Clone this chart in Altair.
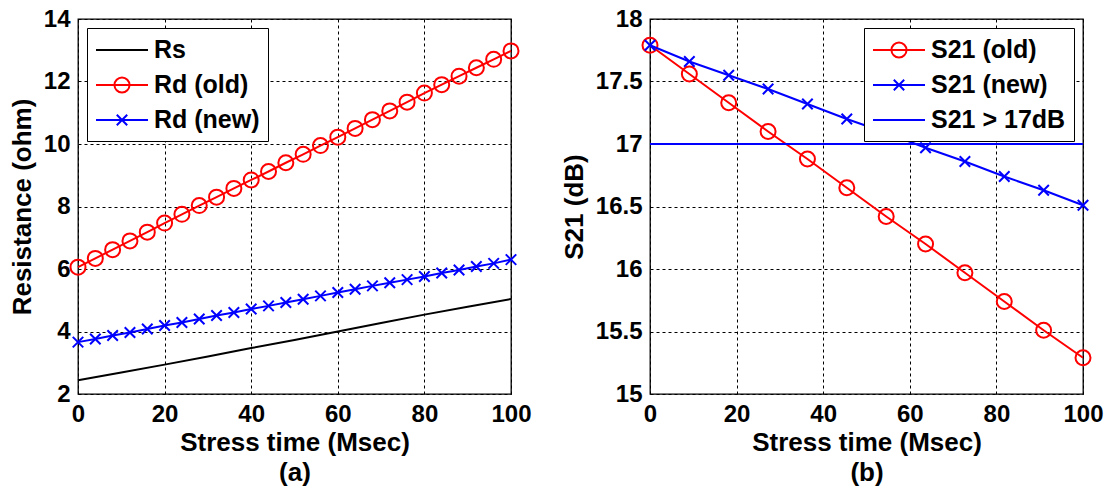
import altair as alt
import pandas as pd

FONT = "Liberation Sans"

# ---------------- Panel (a): resistance vs stress time ----------------
a_series = ["Rs", "Rd (old)", "Rd (new)"]
a_colors = ["black", "red", "blue"]
rs_time = [0, 10, 20, 30, 40, 50, 60, 70, 80, 90, 100]
rs_vals = [2.44, 2.69, 2.94, 3.20, 3.47, 3.73, 4.00, 4.27, 4.54, 4.79, 5.04]
rd_time = [0, 4, 8, 12, 16, 20, 24, 28, 32, 36, 40, 44, 48, 52, 56, 60,
           64, 68, 72, 76, 80, 84, 88, 92, 96, 100]
rd_old = [6.06, 6.34, 6.62, 6.90, 7.18, 7.47, 7.75, 8.03, 8.30, 8.58, 8.85,
          9.12, 9.40, 9.67, 9.95, 10.22, 10.50, 10.78, 11.06, 11.34, 11.63,
          11.90, 12.17, 12.44, 12.71, 12.98]
rd_new = [3.66, 3.76, 3.87, 3.97, 4.08, 4.19, 4.29, 4.40, 4.51, 4.61, 4.72,
          4.82, 4.93, 5.03, 5.14, 5.25, 5.35, 5.46, 5.56, 5.66, 5.76, 5.87,
          5.97, 6.08, 6.18, 6.30]
a_xticks = [0, 20, 40, 60, 80, 100]
a_yticks = [2, 4, 6, 8, 10, 12, 14]

# ---------------- Panel (b): S21 vs stress time ----------------
b_series = ["S21 (old)", "S21 (new)", "S21 > 17dB"]
b_colors = ["red", "blue", "blue"]
s21_time = [0, 9.09, 18.18, 27.27, 36.36, 45.45, 54.55, 63.64, 72.73, 81.82, 90.91, 100]
s21_old = [17.79, 17.56, 17.33, 17.10, 16.88, 16.65, 16.42, 16.20, 15.97, 15.74, 15.51, 15.29]
s21_new = [17.79, 17.66, 17.55, 17.44, 17.32, 17.20, 17.09, 16.97, 16.86, 16.74, 16.63, 16.51]
limit_time = [0, 100]
limit_vals = [17, 17]
b_xticks = [0, 20, 40, 60, 80, 100]
b_yticks = [15, 15.5, 16, 16.5, 17, 17.5, 18]

# legend glyphs (line, line + circle, line + x); unit = half symbol size
G_LINE = "M-1,0L3,0"
G_CIRC = "M-1,0L3,0M0.42,0A0.58,0.58,0,1,1,1.58,0A0.58,0.58,0,1,1,0.42,0"
G_X = "M-1,0L3,0M0.6,-0.4L1.4,0.4M0.6,0.4L1.4,-0.4"
X_MARK = "M-1,-1L1,1M-1,1L1,-1"


def long(series, xs, ys):
    return pd.DataFrame({"t": xs, "v": ys, "series": [series] * len(xs)})


df_a = pd.concat([long("Rs", rs_time, rs_vals),
                  long("Rd (old)", rd_time, rd_old),
                  long("Rd (new)", rd_time, rd_new)], ignore_index=True)
df_b = pd.concat([long("S21 (old)", s21_time, s21_old),
                  long("S21 (new)", s21_time, s21_new),
                  long("S21 > 17dB", limit_time, limit_vals)], ignore_index=True)


def legend(orient):
    return alt.Legend(title=None, orient=orient, offset=9, padding=8,
                      strokeColor="black", fillColor="white", cornerRadius=0,
                      symbolSize=676, symbolStrokeWidth=2, symbolOpacity=1,
                      symbolFillColor="transparent",
                      labelFont=FONT, labelFontSize=25, labelFontWeight="bold",
                      labelColor="black", labelOffset=31, rowPadding=8,
                      labelLimit=400)


def panel(df, series, colors, glyphs, circ_series, x_series, xticks, yticks,
          ydom, ytitle, sub, orient):
    xenc = alt.X("t:Q", scale=alt.Scale(domain=[0, 100], nice=False),
                 axis=alt.Axis(values=xticks, title=["Stress time (Msec)", sub]))
    yenc = alt.Y("v:Q", scale=alt.Scale(domain=ydom, nice=False, zero=False),
                 axis=alt.Axis(values=yticks, format="~g", title=ytitle))
    base = alt.Chart(df)
    layers = []
    for s, c in zip(series, colors):
        sub_chart = base.transform_filter(alt.datum.series == s)
        layers.append(sub_chart.mark_line(strokeWidth=2, color=c).encode(x=xenc, y=yenc))
        if s == circ_series:
            layers.append(sub_chart.mark_point(shape="circle", size=225, strokeWidth=2,
                                               filled=False, color=c, opacity=1)
                          .encode(x=xenc, y=yenc))
        if s == x_series:
            layers.append(sub_chart.mark_point(shape=X_MARK, size=110, strokeWidth=2,
                                               filled=False, color=c, opacity=1)
                          .encode(x=xenc, y=yenc))
    leg = base.mark_point(opacity=0, filled=False).encode(
        x=xenc, y=yenc,
        color=alt.Color("series:N", scale=alt.Scale(domain=series, range=colors),
                        legend=legend(orient)),
        shape=alt.Shape("series:N", scale=alt.Scale(domain=series, range=glyphs),
                        legend=legend(orient)))
    layers.append(leg)
    return alt.layer(*layers).properties(width=433, height=375)


left = panel(df_a, a_series, a_colors, [G_LINE, G_CIRC, G_X], "Rd (old)", "Rd (new)",
             a_xticks, a_yticks, [2, 14], "Resistance (ohm)", "(a)", "top-left")
right = panel(df_b, b_series, b_colors, [G_CIRC, G_X, G_LINE], "S21 (old)", "S21 (new)",
              b_xticks, b_yticks, [15, 18], "S21 (dB)", "(b)", "top-right")

chart = alt.hconcat(left, right, spacing=28).resolve_scale(
    color="independent", shape="independent"
).resolve_legend(color="independent", shape="independent").properties(
    padding={"left": 8, "top": 6, "right": 0, "bottom": 0},
    background="white",
).configure_axis(
    labelFont=FONT, labelFontSize=24, labelFontWeight="bold", labelColor="black",
    titleFont=FONT, titleFontSize=26, titleFontWeight="bold", titleColor="black",
    titleLineHeight=30, grid=True, gridColor="black", gridDash=[3, 3], gridWidth=1,
    gridOpacity=1, domain=False, ticks=False, labelPadding=8,
    labelFlush=False,
).configure_axisX(titlePadding=3).configure_axisY(titlePadding=8).configure_view(
    stroke="black", strokeWidth=1.3)

chart.save("out.html", embed_options={"renderer": "svg", "actions": False})
